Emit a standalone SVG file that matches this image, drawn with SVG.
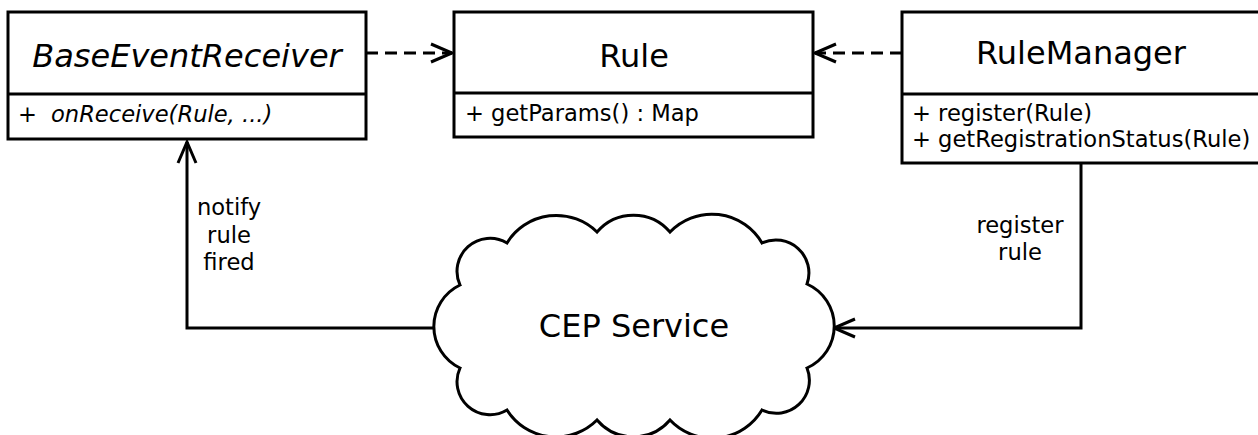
<svg xmlns="http://www.w3.org/2000/svg" width="1258" height="435" viewBox="0 0 1258 435">
  <style>
    .box { fill: #ffffff; stroke: #000000; stroke-width: 3; }
    .sep { stroke: #000000; stroke-width: 3; }
    .title { font-family: "DejaVu Sans", sans-serif; font-size: 32px; fill: #000000; }
    .member { font-family: "DejaVu Sans", sans-serif; font-size: 22.6px; fill: #000000; }
    .label { font-family: "DejaVu Sans", sans-serif; font-size: 22.6px; fill: #000000; text-anchor: middle; }
    .edge { fill: none; stroke: #000000; stroke-width: 3; }
    .dashed { stroke-dasharray: 12 7; }
  </style>
  <defs>
    <!-- open "V" arrowhead, tip at the path end -->
    <marker id="open-arrow" viewBox="-3 -12 28 24" markerUnits="userSpaceOnUse" markerWidth="28" markerHeight="24" refX="21" refY="0" orient="auto" overflow="visible">
      <path d="M0,-9 L21,0 L0,9" fill="none" stroke="#000000" stroke-width="3" stroke-dasharray="none"/>
    </marker>
  </defs>

  <!-- connectors -->
  <g id="connectors">
    <path class="edge dashed" d="M366,53 H452" marker-end="url(#open-arrow)"/>
    <path class="edge dashed" d="M902,53 H815" marker-end="url(#open-arrow)"/>
    <path class="edge" d="M435,328 H187 V142" marker-end="url(#open-arrow)"/>
    <path class="edge" d="M1081,163 V328 H834" marker-end="url(#open-arrow)"/>
    <text class="label" x="229" y="215">notify</text>
    <text class="label" x="229" y="243">rule</text>
    <text class="label" x="229" y="270">fired</text>
    <text class="label" x="1020" y="233">register</text>
    <text class="label" x="1020" y="260">rule</text>
  </g>

  <!-- abstract receiver class -->
  <g id="BaseEventReceiver">
    <rect class="box" x="8" y="12" width="358" height="127"/>
    <line class="sep" x1="8" y1="94" x2="366" y2="94"/>
    <text class="title" x="187" y="67" text-anchor="middle" font-style="italic">BaseEventReceiver</text>
    <text class="member" x="18" y="122">+</text>
    <text class="member" x="51" y="122" font-style="italic">onReceive(Rule, ...)</text>
  </g>

  <!-- rule class -->
  <g id="Rule">
    <rect class="box" x="454" y="12" width="359" height="125"/>
    <line class="sep" x1="454" y1="93" x2="813" y2="93"/>
    <text class="title" x="634" y="67" text-anchor="middle">Rule</text>
    <text class="member" x="465" y="121">+ getParams() : Map</text>
  </g>

  <!-- rule manager class -->
  <g id="RuleManager">
    <rect class="box" x="902" y="12" width="364" height="151"/>
    <line class="sep" x1="902" y1="94" x2="1266" y2="94"/>
    <text class="title" x="1081" y="64" text-anchor="middle">RuleManager</text>
    <text class="member" x="912" y="121">+ register(Rule)</text>
    <text class="member" x="912" y="147">+ getRegistrationStatus(Rule)</text>
  </g>

  <!-- CEP service cloud -->
  <g id="CEPService">
    <path class="box" d="M507,243
      A58,58 0 0 1 597,232
      A48,48 0 0 1 670,232
      A58,58 0 0 1 762,243
      A33,33 0 0 1 807,284
      A46,46 0 0 1 807,368
      A33,33 0 0 1 762,410
      A58,58 0 0 1 670,420
      A48,48 0 0 1 597,420
      A58,58 0 0 1 507,410
      A33,33 0 0 1 460,368
      A46,46 0 0 1 460,285
      A33,33 0 0 1 507,243 Z"/>
    <text class="title" x="634" y="337" text-anchor="middle">CEP Service</text>
  </g>
</svg>
